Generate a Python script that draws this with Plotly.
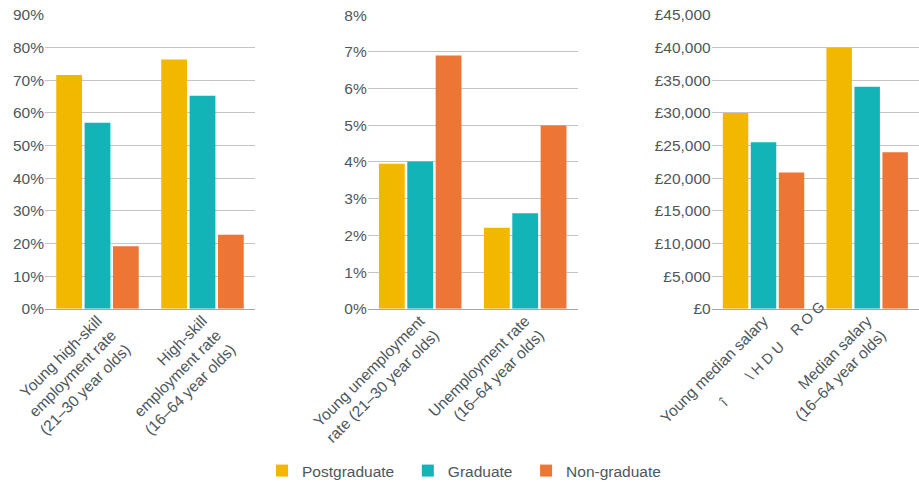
import plotly.graph_objects as go

series = ["Postgraduate", "Graduate", "Non-graduate"]
colours = ["#F2B800", "#12B4B8", "#ED7636"]

emp_cats = ["Young high-skill<br>employment rate<br>(21–30 year olds)",
            "High-skill<br>employment rate<br>(16–64 year olds)"]
emp_vals = {"Postgraduate": [71.6, 76.4],
            "Graduate": [57.0, 65.3],
            "Non-graduate": [19.2, 22.7]}

unemp_cats = ["Young unemployment<br>rate (21–30 year olds)",
              "Unemployment rate<br>(16–64 year olds)"]
unemp_vals = {"Postgraduate": [3.95, 2.21],
              "Graduate": [4.01, 2.60],
              "Non-graduate": [6.90, 4.99]}

sal_cats = ["Young median salary", "Median salary<br>(16–64 year olds)"]
sal_vals = {"Postgraduate": [30000, 40000],
            "Graduate": [25500, 34000],
            "Non-graduate": [20900, 24000]}

# garbled second line exactly as it shows in the source chart
sal_garbled = "î" + "\u00a0" * 8 + "\\ H D U" + "\u00a0" * 4 + "R O G"

FONT = "Liberation Sans, Arial, sans-serif"
FS = 15.5
TXT = "#4d575c"
GRID = "#c4c4c4"

W, H = 919, 488

fig = go.Figure()
panels = [(emp_cats, emp_vals, "x", "y"),
          (unemp_cats, unemp_vals, "x2", "y2"),
          (sal_cats, sal_vals, "x3", "y3")]
for i, (cats, vals, xa, ya) in enumerate(panels):
    for name, col in zip(series, colours):
        fig.add_trace(go.Bar(x=cats, y=vals[name], marker_color=col,
                             name=name + "\u00a0\u00a0",  # a bit more room between legend items
                             marker_line_width=0, xaxis=xa, yaxis=ya,
                             legendgroup=name, showlegend=(i == 0)))

xdoms = [[45 / W, 255 / W], [367.7 / W, 577.7 / W], [711.7 / W, 1.0]]
ydom = [(H - 317.3) / H, (H - 15.3) / H]
xa_common = dict(tickangle=-45, tickfont=dict(size=FS, color=TXT), showgrid=False,
                 showline=True, linecolor="#a8a8a8", linewidth=1, ticks="",
                 ticklabelstandoff=-4, automargin=False, layer="below traces")
ya_common = dict(tickfont=dict(size=FS, color=TXT), showgrid=True, gridcolor=GRID,
                 gridwidth=1, zeroline=False, showline=False, ticks="",
                 automargin=False, domain=ydom)

fig.update_layout(
    width=W, height=H,
    margin=dict(l=0, r=0, t=0, b=0),
    paper_bgcolor="white", plot_bgcolor="white",
    font=dict(family=FONT, size=FS, color=TXT),
    barmode="group", bargap=0.19, bargroupgap=0.09,
    xaxis=dict(domain=xdoms[0], anchor="y", **xa_common),
    xaxis2=dict(domain=xdoms[1], anchor="y2", **xa_common),
    xaxis3=dict(domain=xdoms[2], anchor="y3", **xa_common),
    yaxis=dict(anchor="x", range=[0, 90.05], dtick=10, ticksuffix="%", **ya_common),
    yaxis2=dict(anchor="x2", range=[0, 8.005], dtick=1, ticksuffix="%", **ya_common),
    yaxis3=dict(anchor="x3", range=[0, 45025], dtick=5000, tickprefix="£",
                tickformat=",", **ya_common),
    legend=dict(orientation="h", x=262 / W, xanchor="left", y=(H - 484) / H,
                yanchor="middle", font=dict(size=FS, color=TXT), traceorder="normal"),
    annotations=[dict(text=sal_garbled, xref="paper", yref="paper",
                      x=772 / W, y=(H - 364) / H, xanchor="center",
                      yanchor="middle", textangle=-45, showarrow=False,
                      font=dict(size=14.5, color=TXT))],
)

# drop the default 8px body margin so the figure sits flush in the window
fig.write_html("out.html", config={"displayModeBar": False},
               post_script="document.body.style.margin='0px';")
